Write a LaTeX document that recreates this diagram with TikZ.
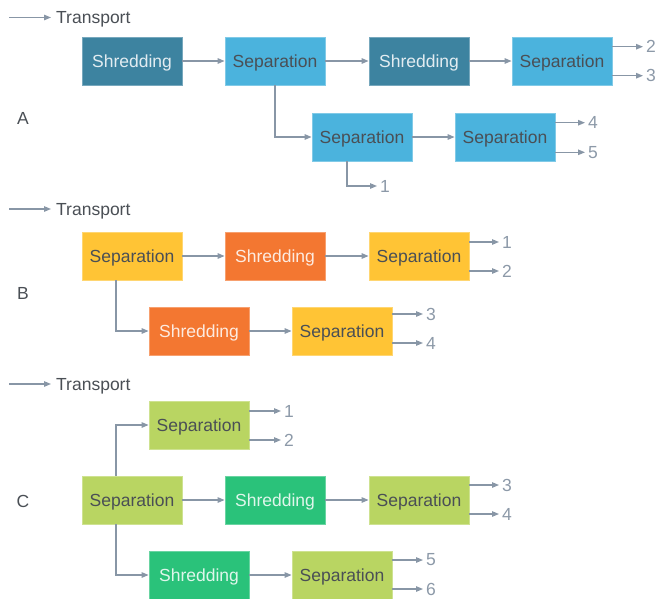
\documentclass[tikz,border=0pt]{standalone}
\usepackage{fontspec}
\setmainfont{Liberation Sans}
\usetikzlibrary{arrows.meta}
\definecolor{lblue}{HTML}{4BB3DD}
\definecolor{dteal}{HTML}{3D83A0}
\definecolor{yel}{HTML}{FFC435}
\definecolor{orng}{HTML}{F37731}
\definecolor{lgrn}{HTML}{B9D562}
\definecolor{grn}{HTML}{2AC27A}
\definecolor{arrc}{HTML}{8896A6}
\definecolor{txtc}{HTML}{4A4F55}
\definecolor{numc}{HTML}{8C99A8}
\tikzset{
  box/.style={minimum width=100pt, minimum height=48pt, inner sep=0pt, line width=0.8pt,
    text height=17pt, text depth=4pt, font=\fontsize{17.5}{20}\selectfont},
  sepA/.style={box, fill=lblue, draw=lblue!70!white, text=txtc},
  shrA/.style={box, fill=dteal, draw=dteal!70!white, text=white!85!dteal},
  sepB/.style={box, fill=yel, draw=yel!70!white, text=txtc},
  shrB/.style={box, fill=orng, draw=orng!70!white, text=white!85!orng},
  sepC/.style={box, fill=lgrn, draw=lgrn!70!white, text=txtc},
  shrC/.style={box, fill=grn, draw=grn!70!white, text=white!85!grn},
  arr/.style={draw=arrc, line width=1.2pt, -{Triangle[length=7pt,width=5.5pt]}},
  num/.style={text=numc, font=\fontsize{17.5}{20}\selectfont, anchor=west, inner sep=3pt},
  lbl/.style={text=txtc, font=\fontsize{17.5}{20}\selectfont},
  leg/.style={text=txtc, font=\fontsize{17.5}{20}\selectfont, anchor=west, inner sep=0pt,
    text height=12.6pt, text depth=0pt},
}
\begin{document}
\begin{tikzpicture}[x=1pt,y=-1pt]
\useasboundingbox (0,0) rectangle (655,598);
% ---------- A ----------
\coordinate (tA) at (9,17.5);
\node[leg] (TA) at (56,17.5) {Transport};
\draw[arr] (tA) -- ([xshift=-5pt]TA.west);
\node[lbl] (LA) at (23,118) {A};
\node[shrA] (a1) at (132,61) {Shredding};
\node[sepA] (a2) at (275,61) {Separation};
\node[shrA] (a3) at (419,61) {Shredding};
\node[sepA] (a4) at (562,61) {Separation};
\node[sepA] (a5) at (362,137) {Separation};
\node[sepA] (a6) at (505,137) {Separation};
\draw[arr] (a1) -- (a2);
\draw[arr] (a2) -- (a3);
\draw[arr] (a3) -- (a4);
\draw[arr] (a2.south) |- (a5.west);
\draw[arr] (a5) -- (a6);
\node[num] (oa2) at (643,46.7) {2};
\node[num] (oa3) at (643,75.7) {3};
\draw[arr] (a4.east |- oa2) -- (oa2.west);
\draw[arr] (a4.east |- oa3) -- (oa3.west);
\node[num] (oa4) at (585,122.7) {4};
\node[num] (oa5) at (585,152.3) {5};
\draw[arr] (a6.east |- oa4) -- (oa4.west);
\draw[arr] (a6.east |- oa5) -- (oa5.west);
\node[num] (oa1) at (377,186) {1};
\draw[arr] ([xshift=-15pt]a5.south) |- (oa1.west);
% ---------- B ----------
\coordinate (tB) at (9,209);
\node[leg] (TB) at (56,209) {Transport};
\draw[arr] (tB) -- ([xshift=-5pt]TB.west);
\node[lbl] (LB) at (23,293) {B};
\node[sepB] (b1) at (132,256) {Separation};
\node[shrB] (b2) at (275,256) {Shredding};
\node[sepB] (b3) at (419,256) {Separation};
\node[shrB] (b4) at (199,331) {Shredding};
\node[sepB] (b5) at (342,331) {Separation};
\draw[arr] (b1) -- (b2);
\draw[arr] (b2) -- (b3);
\draw[arr] ([xshift=-16pt]b1.south) |- (b4.west);
\draw[arr] (b4) -- (b5);
\node[num] (ob1) at (499,242) {1};
\node[num] (ob2) at (499,271) {2};
\draw[arr] (b3.east |- ob1) -- (ob1.west);
\draw[arr] (b3.east |- ob2) -- (ob2.west);
\node[num] (ob3) at (423,314) {3};
\node[num] (ob4) at (423,343) {4};
\draw[arr] (b5.east |- ob3) -- (ob3.west);
\draw[arr] (b5.east |- ob4) -- (ob4.west);
% ---------- C ----------
\coordinate (tC) at (9,384);
\node[leg] (TC) at (56,384) {Transport};
\draw[arr] (tC) -- ([xshift=-5pt]TC.west);
\node[lbl] (LC) at (23,501) {C};
\node[sepC] (c0) at (199,425) {Separation};
\node[sepC] (c1) at (132,500) {Separation};
\node[shrC] (c2) at (275,500) {Shredding};
\node[sepC] (c3) at (419,500) {Separation};
\node[shrC] (c4) at (199,575) {Shredding};
\node[sepC] (c5) at (342,575) {Separation};
\draw[arr] ([xshift=-16pt]c1.north) |- (c0.west);
\draw[arr] (c1) -- (c2);
\draw[arr] (c2) -- (c3);
\draw[arr] ([xshift=-16pt]c1.south) |- (c4.west);
\draw[arr] (c4) -- (c5);
\node[num] (oc1) at (281,411) {1};
\node[num] (oc2) at (281,440) {2};
\draw[arr] (c0.east |- oc1) -- (oc1.west);
\draw[arr] (c0.east |- oc2) -- (oc2.west);
\node[num] (oc3) at (499,485) {3};
\node[num] (oc4) at (499,514) {4};
\draw[arr] (c3.east |- oc3) -- (oc3.west);
\draw[arr] (c3.east |- oc4) -- (oc4.west);
\node[num] (oc5) at (423,560) {5};
\node[num] (oc6) at (423,589) {6};
\draw[arr] (c5.east |- oc5) -- (oc5.west);
\draw[arr] (c5.east |- oc6) -- (oc6.west);
\end{tikzpicture}
\end{document}
